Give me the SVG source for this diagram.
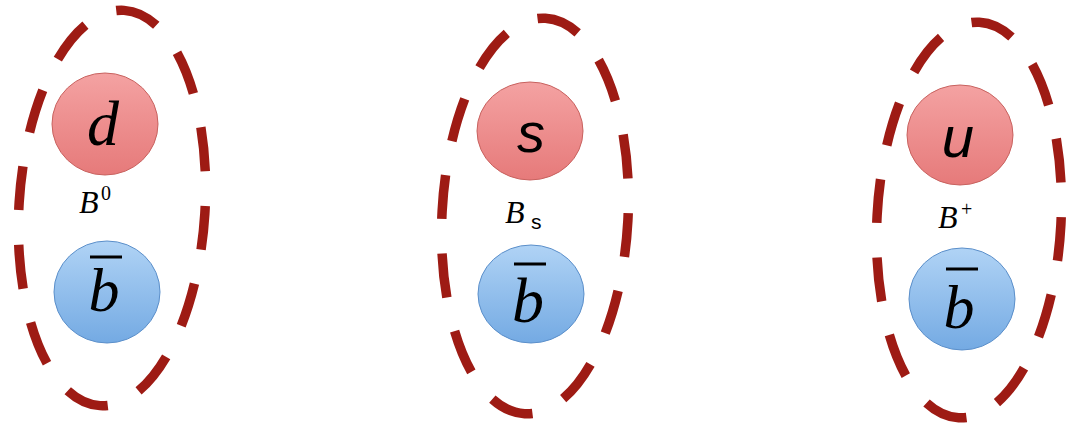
<svg xmlns="http://www.w3.org/2000/svg" width="1074" height="429" viewBox="0 0 1074 429">
<defs>
<linearGradient id="gr" x1="0" y1="0" x2="0" y2="1">
<stop offset="0" stop-color="#f4a2a2"/>
<stop offset="1" stop-color="#e67a7a"/>
</linearGradient>
<linearGradient id="gb" x1="0" y1="0" x2="0" y2="1">
<stop offset="0" stop-color="#b0d3f5"/>
<stop offset="1" stop-color="#74aae3"/>
</linearGradient>
<style>
.hull{fill:none;stroke:#9e1b14;stroke-width:9.5;stroke-dasharray:0.56 0.44;stroke-dashoffset:0.1}
.q{fill:url(#gr);stroke:#c8625f;stroke-width:1}
.a{fill:url(#gb);stroke:#5b8fca;stroke-width:1}
.it{font-family:"Liberation Serif",serif;font-style:italic;fill:#000}
.bar{stroke:#000;stroke-width:3}
.sans{font-family:"Liberation Sans",sans-serif;fill:#000}
.sup{font-family:"Liberation Serif",serif;fill:#000;font-size:20px}
</style>
</defs>
<rect width="1074" height="429" fill="#fff"/>
<g id="connectors"/>
<g id="B0">
<ellipse class="hull" cx="112" cy="208" rx="93" ry="198" pathLength="12" transform="rotate(3.5 112 208)"/>
<ellipse class="q" cx="105" cy="124" rx="53" ry="51"/>
<text class="it" x="103" y="145" font-size="64" text-anchor="middle">d</text>
<ellipse class="a" cx="107" cy="292" rx="53" ry="51"/>
<line class="bar" x1="90" y1="257" x2="122" y2="257"/>
<text class="it" x="104" y="311" font-size="62" text-anchor="middle">b</text>
<text class="it" x="79" y="213" font-size="32">B</text>
<text class="sup" x="101" y="200">0</text>
</g>
<g id="Bs">
<ellipse class="hull" cx="535" cy="216" rx="93" ry="198" pathLength="12" transform="rotate(3 535 216)"/>
<ellipse class="q" cx="530" cy="131" rx="53" ry="49"/>
<text class="sans" x="531" y="152" font-size="56" text-anchor="middle" font-style="italic">s</text>
<ellipse class="a" cx="531" cy="294" rx="53" ry="49"/>
<line class="bar" x1="514" y1="264" x2="546" y2="264"/>
<text class="it" x="528" y="322" font-size="64" text-anchor="middle">b</text>
<text class="it" x="505" y="223" font-size="32">B</text>
<text class="sans" x="531" y="229" font-size="21">s</text>
</g>
<g id="Bplus">
<ellipse class="hull" cx="969" cy="220" rx="92" ry="198" pathLength="12" transform="rotate(3 969 220)"/>
<ellipse class="q" cx="960" cy="135" rx="53" ry="50"/>
<text class="sans" x="958" y="157" font-size="58" text-anchor="middle" font-style="italic">u</text>
<ellipse class="a" cx="962" cy="299" rx="53" ry="51"/>
<line class="bar" x1="946" y1="269" x2="978" y2="269"/>
<text class="it" x="959" y="328" font-size="62" text-anchor="middle">b</text>
<text class="it" x="938" y="228" font-size="32">B</text>
<text class="sup" x="961" y="216">+</text>
</g>
</svg>
